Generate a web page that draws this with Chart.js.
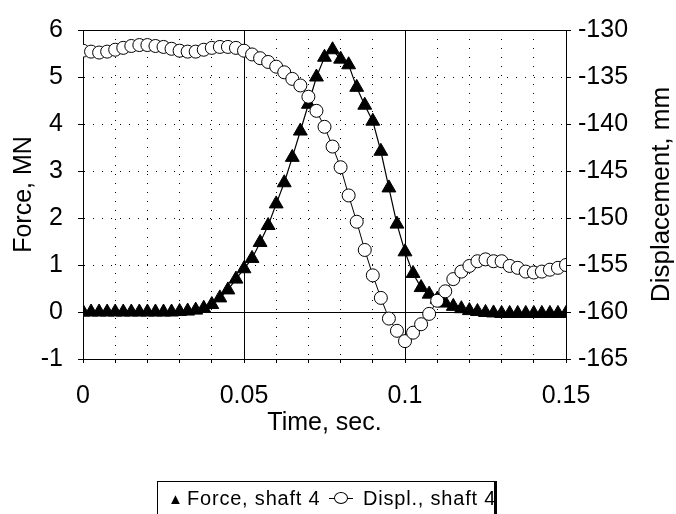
<!DOCTYPE html>
<html>
<head>
<meta charset="utf-8">
<script src="https://cdn.jsdelivr.net/npm/chart.js@4"></script>
<style>
  html, body { margin: 0; padding: 0; background: #fff; }
  #wrap { position: relative; width: 676px; height: 514px; overflow: hidden; }
  #legend {
    position: absolute; left: 157px; top: 481px; width: 336px; height: 40px;
    border-top: 1px solid #000; border-left: 1px solid #000; border-right: 3px solid #000;
    font-family: "Liberation Sans", Arial, sans-serif; font-size: 20px; color: #000;
  }
  #legend span { position: absolute; top: 5px; white-space: nowrap; letter-spacing: 0.8px; }
  .tri { font-size: 15px !important; top: 8px !important; }
  .circ { width: 24px; height: 14px; top: 10px !important; }
  .circ i { position: absolute; left: 0; right: 0; top: 6px; border-top: 1px solid #000; }
  .circ b { position: absolute; left: 5px; top: 0; width: 12px; height: 10px; border: 1px solid #000; border-radius: 50%; background: #fff; }
</style>
</head>
<body>
<div id="wrap">
  <canvas id="chart" width="676" height="514"></canvas>
  <div id="legend"></div>
</div>
<script>
// ── Data ───────────────────────────────────
const time = [0, 0.0025, 0.005, 0.0075, 0.01, 0.0125, 0.015, 0.0175, 0.02, 0.0225,
              0.025, 0.0275, 0.03, 0.0325, 0.035, 0.0375, 0.04, 0.0425, 0.045, 0.0475,
              0.05, 0.0525, 0.055, 0.0575, 0.06, 0.0625, 0.065, 0.0675, 0.07, 0.0725,
              0.075, 0.0775, 0.08, 0.0825, 0.085, 0.0875, 0.09, 0.0925, 0.095, 0.0975,
              0.1, 0.1025, 0.105, 0.1075, 0.11, 0.1125, 0.115, 0.1175, 0.12, 0.1225,
              0.125, 0.1275, 0.13, 0.1325, 0.135, 0.1375, 0.14, 0.1425, 0.145, 0.1475, 0.15];

const force = [0, 0, 0, 0, 0, 0, 0, 0, 0, 0,
               0, 0, 0.01, 0.02, 0.04, 0.08, 0.16, 0.30, 0.47, 0.70,
               0.92, 1.14, 1.48, 1.84, 2.30, 2.75, 3.29, 3.85, 4.42, 5.00,
               5.42, 5.58, 5.38, 5.26, 4.78, 4.40, 4.06, 3.42, 2.64, 1.87,
               1.28, 0.82, 0.52, 0.38, 0.27, 0.19, 0.12, 0.07, 0.03, 0.01,
               -0.01, -0.02, -0.03, -0.03, -0.03, -0.03, -0.03, -0.03, -0.03, -0.03, -0.03];

const displ = [-132.2, -132.3, -132.4, -132.3, -132.1, -131.9, -131.7, -131.6, -131.6, -131.7,
               -131.8, -132.0, -132.2, -132.3, -132.3, -132.1, -131.9, -131.8, -131.8, -131.9,
               -132.2, -132.6, -133.0, -133.4, -133.9, -134.5, -135.2, -135.9, -137.1, -138.6,
               -140.3, -142.4, -144.6, -147.6, -150.4, -153.4, -156.1, -158.5, -160.7, -162.0,
               -163.1, -162.2, -161.3, -160.2, -158.8, -157.8, -156.5, -155.7, -155.1, -154.6,
               -154.4, -154.6, -154.6, -155.1, -155.3, -155.7, -155.8, -155.7, -155.5, -155.3, -155.0];

const seriesNames = ['Force, shaft 4', 'Displ., shaft 4'];
const xTickLabels = ['0', '0.05', '0.1', '0.15'];
const solidForceLines = [0, 6];
const rightTitle = 'Displacement, mm';

// ── Legend ─────────────────────────────────
document.getElementById('legend').innerHTML = `
    <span class="tri" style="left:10px">&#9650;</span>
    <span style="left:29px">${seriesNames[0]}</span>
    <span class="circ" style="left:171px"><i></i><b></b></span>
    <span style="left:205px">${seriesNames[1]}</span>`;

// ── Chart ──────────────────────────────────
const FONT = '"Liberation Sans", Arial, sans-serif';
const black = '#000';

// right-hand title reads bottom to top, like the left one
const rightTitlePlugin = {
    id: 'rightTitle',
    afterDraw(chart) {
        const { ctx, chartArea } = chart;
        ctx.save();
        ctx.translate(662, (chartArea.top + chartArea.bottom) / 2);
        ctx.rotate(-Math.PI / 2);
        ctx.font = `26px ${FONT}`;
        ctx.fillStyle = black;
        ctx.textAlign = 'center';
        ctx.textBaseline = 'middle';
        ctx.fillText(rightTitle, 0, 0);
        ctx.restore();
    }
};

new Chart(document.getElementById('chart').getContext('2d'), {
    type: 'line',
    data: {
        datasets: [
            {
                label: seriesNames[1],
                data: time.map((t, i) => ({ x: t, y: displ[i] })),
                yAxisID: 'y2',
                borderColor: black,
                borderWidth: 1,
                pointStyle: 'circle',
                pointRadius: 6.5,
                pointBackgroundColor: '#fff',
                pointBorderColor: black,
                pointBorderWidth: 1,
                tension: 0,
                order: 0
            },
            {
                label: seriesNames[0],
                data: time.map((t, i) => ({ x: t, y: force[i] })),
                yAxisID: 'y',
                borderColor: black,
                borderWidth: 1.2,
                pointStyle: 'triangle',
                pointRadius: 8,
                pointBackgroundColor: black,
                pointBorderColor: black,
                pointBorderWidth: 1,
                tension: 0,
                order: 1
            }
        ]
    },
    options: {
        responsive: false,
        animation: false,
        layout: { padding: { left: 10, right: 0, top: 27, bottom: 78 } },
        plugins: { legend: { display: false }, tooltip: { enabled: false } },
        scales: {
            x: {
                type: 'linear', position: 'bottom', min: 0, max: 0.15, weight: 0,
                afterFit: s => { s.height = 77; },
                ticks: {
                    stepSize: 0.05, padding: 22, color: black,
                    font: { family: FONT, size: 25 },
                    callback: (v, i) => xTickLabels[i]
                },
                grid: { color: black, lineWidth: 1, drawTicks: false },
                border: { color: black, width: 1 },
                title: {
                    display: true, text: 'Time, sec.', color: black, padding: 0,
                    font: { family: FONT, size: 25, lineHeight: 1.0 }
                }
            },
            x2: {
                type: 'linear', position: 'bottom', min: 0, max: 0.15, weight: -1,
                afterFit: s => { s.height = 0; },
                ticks: { stepSize: 0.01, display: false },
                grid: { color: black, lineWidth: 1, drawTicks: true, tickLength: 4 },
                border: { display: false, dash: [1, 8] }
            },
            y: {
                type: 'linear', position: 'left', min: -1, max: 6, weight: 0,
                afterFit: s => { s.width = 73; },
                ticks: {
                    stepSize: 1, padding: 15, color: black,
                    font: { family: FONT, size: 25 }
                },
                grid: { color: black, lineWidth: 1, drawTicks: true, tickLength: 5 },
                border: { color: black, width: 1, dash: [1, 8] },
                title: {
                    display: true, text: 'Force, MN', color: black, padding: 0,
                    font: { family: FONT, size: 25, lineHeight: 1.1 }
                }
            },
            yz: {
                type: 'linear', position: 'left', min: -1, max: 6, weight: -1,
                afterFit: s => { s.width = 0; },
                afterBuildTicks: s => { s.ticks = solidForceLines.map(v => ({ value: v })); },
                ticks: { display: false },
                grid: { color: black, lineWidth: 1, drawTicks: false },
                border: { display: false }
            },
            y2: {
                type: 'linear', position: 'right', min: -165, max: -130,
                afterFit: s => { s.width = 110; },
                ticks: {
                    stepSize: 5, padding: 7, color: black,
                    font: { family: FONT, size: 25 }
                },
                grid: { drawOnChartArea: false, color: black, drawTicks: true, tickLength: 5 },
                border: { color: black, width: 1 }
            }
        }
    },
    plugins: [rightTitlePlugin]
});
</script>
</body>
</html>
